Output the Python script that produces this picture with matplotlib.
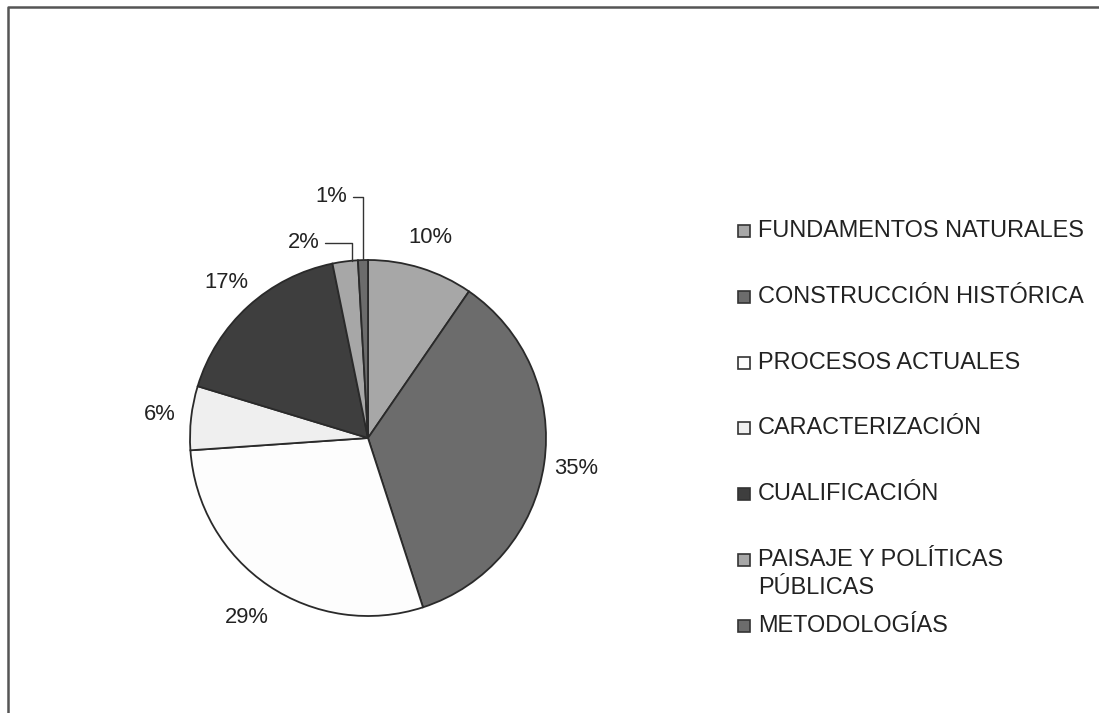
import matplotlib.pyplot as plt
from matplotlib.patches import Rectangle
import numpy as np

plt.rcParams['font.family'] = ['Liberation Sans', 'DejaVu Sans']

# datos (porcentajes estimados a partir de los angulos)
categorias = ["FUNDAMENTOS NATURALES", "CONSTRUCCIÓN HISTÓRICA", "PROCESOS ACTUALES",
              "CARACTERIZACIÓN", "CUALIFICACIÓN", "PAISAJE Y POLÍTICAS\nPÚBLICAS",
              "METODOLOGÍAS"]
porcentajes = [9.6, 35.4, 28.9, 5.8, 17.1, 2.3, 0.9]
colores = ["#a7a7a7", "#6c6c6c", "#fdfdfd", "#efefef", "#3e3e3e", "#a7a7a7", "#6c6c6c"]

W, H = 1099, 713
fig = plt.figure(figsize=(W / 100, H / 100), dpi=100)

# marco (solo borde superior e izquierdo visibles)
over = fig.add_axes([0, 0, 1, 1])
over.set_xlim(0, W)
over.set_ylim(H, 0)
over.axis("off")
over.plot([8, 8, W], [H, 7, 7], color="#555555", lw=1.8)

# pie
cx, cy, r = 368, 438, 178
ax = fig.add_axes([(cx - r) / W, (H - cy - r) / H, 2 * r / W, 2 * r / H])
wedges, _ = ax.pie(porcentajes, colors=colores, startangle=90, counterclock=False,
                   wedgeprops=dict(edgecolor="#2a2a2a", linewidth=1.3))
ax.set_xlim(-1, 1)
ax.set_ylim(-1, 1)
ax.set_aspect("equal")
ax.axis("off")

tc = "#222222"
fs = 15.8
for w, p in zip(wedges, porcentajes):
    ang = np.deg2rad((w.theta1 + w.theta2) / 2)
    if p >= 5:
        rl = 1.22 if np.sin(ang) < -0.5 else 1.18
        ax.text(rl * np.cos(ang), rl * np.sin(ang), f"{p:.0f}%", ha="center", va="center",
                fontsize=fs, color=tc)

# etiquetas pequenas con linea guia
guias = {5: ((-0.27, 1.096), 0.22), 6: ((-0.118, 1.354), 0.5)}
for i, ((tx, ty), frac) in guias.items():
    w = wedges[i]
    ang = np.deg2rad(w.theta1 + (w.theta2 - w.theta1) * frac)
    ax.annotate(f"{porcentajes[i]:.0f}%", xy=(np.cos(ang), np.sin(ang)), xytext=(tx, ty),
                ha="right", va="center", fontsize=fs, color=tc, annotation_clip=False,
                arrowprops=dict(arrowstyle="-", color="#333333", lw=1,
                                connectionstyle="angle,angleA=0,angleB=90,rad=0",
                                relpos=(1, 0.5), shrinkA=2, shrinkB=0))

# leyenda
y0, paso, interlinea = 237, 65.8, 28
for i, (cat, col) in enumerate(zip(categorias, colores)):
    yb = y0 + i * paso
    over.add_patch(Rectangle((738, yb - 12), 12, 12, facecolor=col,
                             edgecolor="#333333", lw=1.2))
    for k, linea in enumerate(cat.split("\n")):
        over.text(758, yb + k * interlinea, linea, ha="left", va="baseline",
                  fontsize=16.9, color=tc)

fig.savefig("out.png", dpi=100)
